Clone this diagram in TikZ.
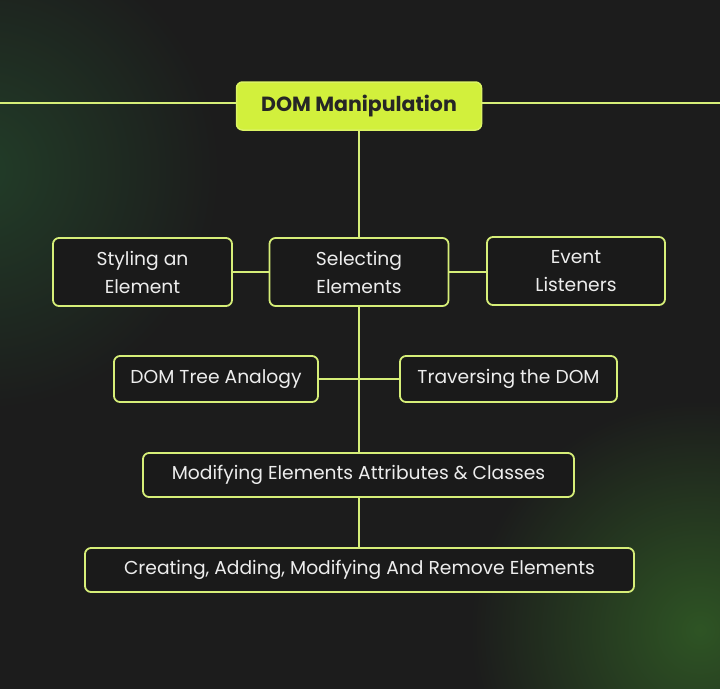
\documentclass[tikz,border=0pt]{standalone}
\usepackage{fontspec}
\setmainfont{Poppins}
\usepackage{tikz}
\usetikzlibrary{positioning, calc}

\definecolor{bgdark}{HTML}{1C1C1C}
\definecolor{boxdark}{HTML}{1A1A1A}
\definecolor{lime}{HTML}{D2F03C}
\definecolor{limeline}{HTML}{D6EE78}
\definecolor{glowtl}{HTML}{223D28}
\definecolor{glowbr}{HTML}{2E5424}
\definecolor{txt}{HTML}{EDEDED}

\begin{document}
\begin{tikzpicture}[x=1pt, y=-1pt,
    box/.style={draw=limeline, line width=1.8pt, rounded corners=6pt, fill=boxdark,
                text=txt, align=center, font=\fontsize{18.7}{28}\selectfont, inner sep=0pt},
    topbox/.style={draw=lime!80!white, line width=1.5pt, rounded corners=6pt, fill=lime,
                   text=black!85, font=\fontsize{20.5}{24}\selectfont\bfseries, inner sep=0pt},
    link/.style={limeline, line width=1.8pt}]
    \useasboundingbox (0,0) rectangle (720,688);
    % background with green glows
    \fill[bgdark] (-1,-1) rectangle (721,689);
    \begin{scope}
        \clip (0,0) rectangle (720,688);
        \shade[inner color=glowtl, outer color=bgdark] (-20,170) circle (240);
        \shade[inner color=glowbr, outer color=bgdark] (700,630) circle (230);
    \end{scope}

    % Title
    \node[topbox, minimum width=245, minimum height=48] (dom) at (359,106) {DOM Manipulation};
    \coordinate (leftend) at (0,103);
    \coordinate (rightend) at (720,103);
    \draw[link] (leftend) -- (dom.west |- leftend);
    \draw[link] (dom.east |- rightend) -- (rightend);

    % First row
    \node[box, minimum width=179, minimum height=68] (select) at (359,272) {Selecting\\Elements};
    \node[box, minimum width=179, minimum height=68] (style) at (142.5,272) {Styling an\\Element};
    \node[box, minimum width=178, minimum height=68] (event) at (576,271) {Event\\Listeners};

    % Second row
    \node[box, minimum width=204, minimum height=46] (tree) at (216,379) {DOM Tree Analogy};
    \node[box, minimum width=217, minimum height=46] (traverse) at (508.5,379) {Traversing the DOM};

    % Lower boxes
    \node[box, minimum width=431, minimum height=44] (modify) at (358.5,475) {Modifying Elements Attributes \& Classes};
    \node[box, minimum width=549, minimum height=44] (create) at (359.5,570) {Creating, Adding, Modifying And Remove Elements};

    % Connectors
    \draw[link] (dom.south -| select.north) -- (select.north);
    \draw[link] (style) -- (select);
    \draw[link] (select.east) -- (event.west |- select.east);
    \draw[link] (select.south) -- (modify.north -| select.south);
    \draw[link] (tree) -- (traverse);
    \draw[link] (modify.south -| select.south) -- (create.north -| select.south);
\end{tikzpicture}
\end{document}
